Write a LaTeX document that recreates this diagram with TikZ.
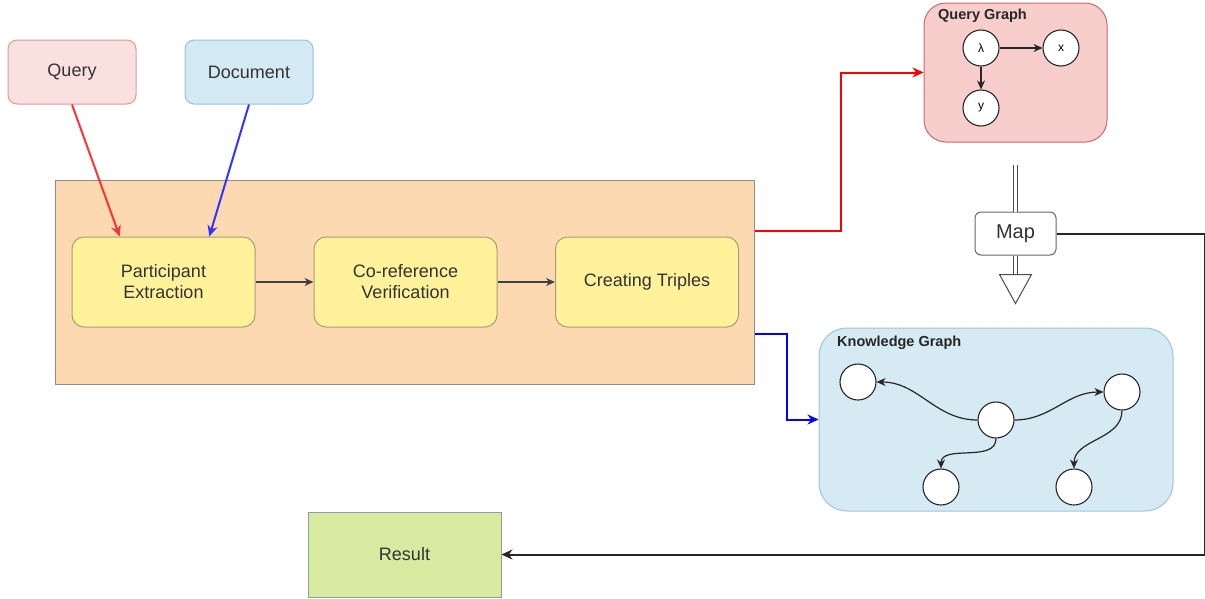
\documentclass[tikz,border=0pt]{standalone}
\usepackage{fontspec}
\setmainfont{Liberation Sans}
\usetikzlibrary{arrows.meta,calc,positioning}

\definecolor{queryfill}{HTML}{FAE1E0}
\definecolor{querydraw}{HTML}{D49E9C}
\definecolor{docfill}{HTML}{D3E9F3}
\definecolor{docdraw}{HTML}{98C2D8}
\definecolor{stagefill}{HTML}{FDD9B1}
\definecolor{stepfill}{HTML}{FFF29B}
\definecolor{stepdraw}{HTML}{A89F74}
\definecolor{qgfill}{HTML}{F8CECC}
\definecolor{qgdraw}{HTML}{C66B67}
\definecolor{kgfill}{HTML}{D5EAF3}
\definecolor{kgdraw}{HTML}{9EC5DB}
\definecolor{resfill}{HTML}{D6EBA0}

\tikzset{
	box/.style={draw, rounded corners=9pt, align=center, inner sep=0pt, line width=1pt, text=black!80, font=\fontsize{18}{21}\selectfont},
	stepbox/.style={box, fill=stepfill, draw=stepdraw, rounded corners=12pt, minimum width=183, minimum height=90},
	vert/.style={draw=black!85, fill=white, circle, minimum size=36, inner sep=0pt, line width=1.1pt, font=\fontsize{12}{14}\selectfont},
	title/.style={anchor=west, inner sep=0pt, font=\bfseries\fontsize{14.5}{17}\selectfont, text=black!85},
	tip/.style={-{Stealth[length=11, width=10]}},
	flow/.style={-{Stealth[length=9, width=8]}, line width=1.5pt, draw=black!75},
	edge/.style={-{Stealth[length=9, width=8]}, line width=1.2pt, draw=black!85},
	twin/.style={double=white, double distance=3pt, line width=1pt, draw=black!70}
}

\begin{document}
\begin{tikzpicture}[x=1pt, y=-1pt]
			%%%%% START %%%%%
			\useasboundingbox (0, 0) rectangle (1205, 598);
			
			% inputs
			\node[box, fill=queryfill, draw=querydraw, minimum width=128, minimum height=64] (query) at (72, 72) {Query};
			\node[box, fill=docfill, draw=docdraw, minimum width=128, minimum height=64] (doc) at (249, 72) {Document};
			
			% extraction pipeline
			\node[draw=black!45, fill=stagefill, minimum width=699, minimum height=204, inner sep=0pt, line width=1pt] (stage) at (404.5, 282) {};
			\node[stepbox] (part) at (163.5, 282) {Participant\\Extraction};
			\node[stepbox] (coref) at (405.5, 282) {Co-reference\\Verification};
			\node[stepbox] (trip) at (647, 282) {Creating Triples};
			
			\draw[flow] (part) -- (coref);
			\draw[flow] (coref) -- (trip);
			
			\draw[tip, line width=2pt, draw=red!80] (query.south) -- ($(part.north west)!0.262!(part.north east)$);
			\draw[tip, line width=2pt, draw=blue!80] (doc.south) -- ($(part.north west)!0.749!(part.north east)$);
			
			% query graph
			\node[box, fill=qgfill, draw=qgdraw, rounded corners=22pt, minimum width=183, minimum height=139] (qg) at (1015.5, 72.5) {};
			\node[title] (qgtitle) at (938, 16) {Query Graph};
			\node[vert] (lam) at (981, 48) {λ};
			\node[vert] (vx) at (1061, 48) {x};
			\node[vert] (vy) at (981, 108) {y};
			\draw[edge] (lam) -- (vx);
			\draw[edge] (lam) -- (vy);
			
			\draw[tip, line width=2pt, draw=red] ($(stage.north east)+(0, 51)$) -- ++(86, 0) |- (qg.west);
			
			% knowledge graph
			\node[box, fill=kgfill, draw=kgdraw, rounded corners=28pt, minimum width=354, minimum height=183] (kg) at (996, 419.5) {};
			\node[title] (kgtitle) at (837, 343) {Knowledge Graph};
			\node[vert] (k1) at (858, 382) {};
			\node[vert] (k2) at (996, 420) {};
			\node[vert] (k3) at (1122, 392) {};
			\node[vert] (k4) at (941, 487) {};
			\node[vert] (k5) at (1074, 487) {};
			\draw[edge] (k2.west) to[out=180, in=0] (k1.east);
			\draw[edge] (k2.east) to[out=0, in=180] (k3.west);
			\draw[edge] (k2.south) to[out=270, in=90] (k4.north);
			\draw[edge] (k3.south) to[out=270, in=90] (k5.north);
			
			\draw[tip, line width=2pt, draw=blue] ($(stage.south east)+(0, -51)$) -- ++(32, 0) |- (kg.west);
			
			% mapping step
			\node[box, fill=white, draw=black!60, rounded corners=6pt, minimum width=81, minimum height=43, font=\fontsize{20}{24}\selectfont] (map) at (1015.5, 233.5) {Map};
			\draw[twin] ($(qg.south)+(0, 22)$) -- (map.north);
			\draw[twin] (map.south) -- ++(0, 19);
			\draw[line width=1pt, draw=black!70, fill=white] ($(map.south)+(-16, 19)$) -- ++(32, 0) -- ++(-16, 29) -- cycle;
			
			% result
			\node[draw=black!40, fill=resfill, minimum width=193, minimum height=85, inner sep=0pt, line width=1pt, text=black!80, font=\fontsize{18}{21}\selectfont] (result) at (404.5, 554.5) {Result};
			\coordinate (turn) at (1205, 233.5);
			\draw[tip, line width=2pt, draw=black!85] (map.east) -- (turn) |- (result.east);
			
			%%%%% END %%%%%
		\end{tikzpicture}
\end{document}
